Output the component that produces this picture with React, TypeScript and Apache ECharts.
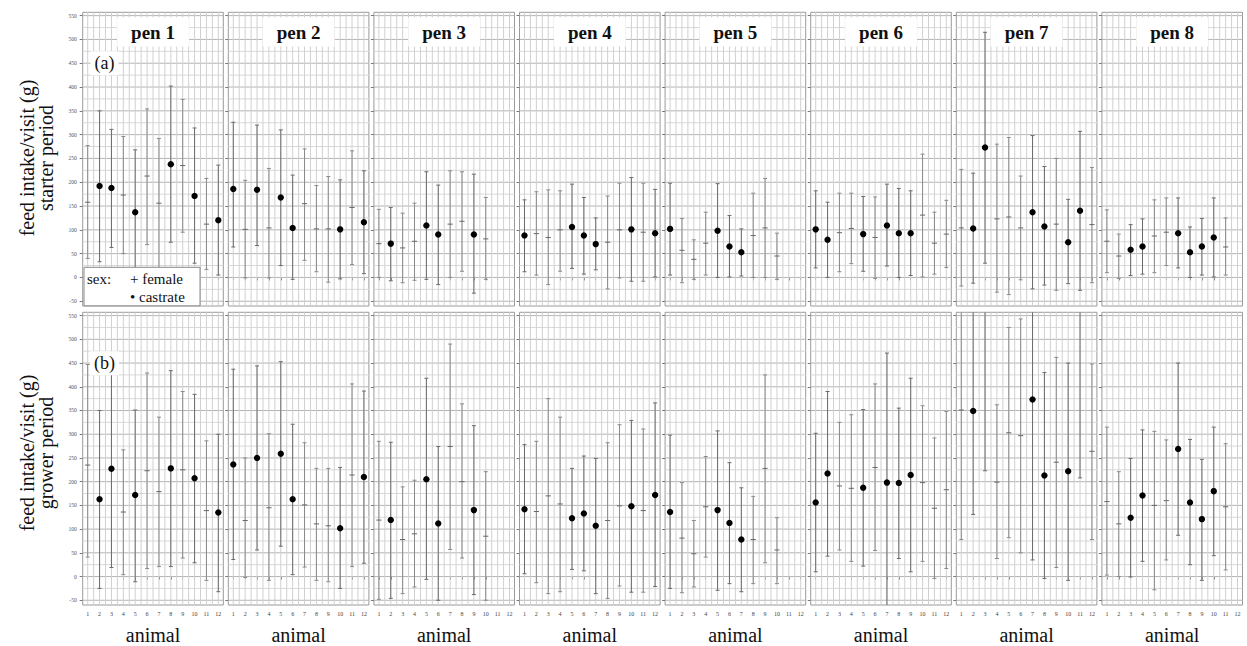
import React, { useEffect, useRef } from "react";
import * as echarts from "echarts";

const pens = ["pen 1", "pen 2", "pen 3", "pen 4", "pen 5", "pen 6", "pen 7", "pen 8"];
const animals = [1, 2, 3, 4, 5, 6, 7, 8, 9, 10, 11, 12];
const yTicks = [-50, 0, 50, 100, 150, 200, 250, 300, 350, 400, 450, 500, 550];

// F = female, C = castrate
const sex = [
  ["F", "C", "C", "F", "C", "F", "F", "C", "F", "C", "F", "C"],
  ["C", "F", "C", "F", "C", "C", "F", "F", "F", "C", "F", "C"],
  ["F", "C", "F", "F", "C", "C", "F", "F", "C", "F", null, null],
  ["C", "F", "F", "F", "C", "C", "C", "F", "F", "C", "F", "C"],
  ["C", "F", "F", "F", "C", "C", "C", "F", "F", "F", null, null],
  ["C", "C", "F", "F", "C", "F", "C", "C", "C", "F", "F", "F"],
  ["F", "C", "C", "F", "F", "F", "C", "C", "F", "C", "C", "F"],
  ["F", "F", "C", "C", "F", "F", "C", "C", "C", "C", "F", null],
];

const starterMean = [
  [158, 192, 188, 173, 137, 213, 156, 238, 235, 171, 112, 120],
  [186, 101, 184, 104, 168, 104, 155, 102, 102, 101, 147, 116],
  [71, 71, 62, 76, 109, 90, 112, 118, 90, 81, null, null],
  [88, 92, 84, 100, 106, 88, 70, 74, 100, 101, 95, 93],
  [102, 57, 38, 72, 98, 65, 53, 88, 104, 45, null, null],
  [101, 79, 94, 103, 91, 84, 109, 93, 93, 131, 72, 91],
  [104, 103, 273, 123, 127, 104, 137, 107, 112, 74, 140, 111],
  [76, 45, 58, 65, 87, 95, 93, 53, 65, 84, 64, null],
];
const starterLow = [
  [40, 33, 63, 50, -10, 69, -5, 74, 95, 30, 17, 5],
  [64, -1, 67, -1, 25, -4, 36, 12, -10, -3, 27, 8],
  [0, -7, -11, -6, -4, -15, 0, 13, -33, -4, null, null],
  [12, 5, -15, 13, 19, 7, 16, -24, -1, -8, -8, 1],
  [5, -11, -4, 5, 0, 1, 3, 0, 0, -4, null, null],
  [20, 0, 12, 29, 13, -2, 24, 0, 4, 1, 7, 21],
  [-18, -12, 30, -31, -36, -5, -24, -16, -27, -13, -27, -11],
  [10, -2, 4, 7, 10, 25, 20, 0, 5, 1, 5, null],
];
const starterHigh = [
  [277, 350, 311, 296, 268, 354, 292, 402, 374, 314, 208, 236],
  [326, 204, 320, 229, 310, 215, 270, 193, 212, 205, 266, 224],
  [143, 147, 135, 156, 222, 194, 224, 222, 217, 168, null, null],
  [163, 180, 184, 182, 196, 168, 125, 171, 198, 210, 198, 185],
  [198, 124, 79, 137, 197, 130, 102, 177, 208, 93, null, null],
  [182, 158, 177, 177, 170, 169, 196, 187, 182, 259, 137, 162],
  [227, 219, 515, 280, 294, 213, 298, 233, 250, 164, 307, 231],
  [142, 91, 111, 123, 163, 167, 167, 106, 124, 167, 125, null],
];

const growerMean = [
  [235, 163, 227, 136, 172, 223, 179, 228, 225, 207, 139, 135],
  [236, 118, 250, 145, 259, 163, 151, 111, 107, 102, 214, 210],
  [119, 119, 78, 90, 205, 112, 274, 200, 140, 85, null, null],
  [142, 137, 170, 153, 123, 133, 107, 118, 149, 148, 139, 172],
  [136, 81, 48, 147, 140, 113, 78, 78, 228, 56, null, null],
  [156, 217, 191, 186, 187, 230, 198, 197, 214, 198, 144, 183],
  [351, 349, 600, 199, 303, 297, 373, 213, 241, 222, 600, 264],
  [158, 111, 124, 171, 150, 160, 269, 156, 121, 180, 147, null],
];
const growerLow = [
  [41, -25, 19, 4, -11, 17, 21, 21, 39, 29, -8, -32],
  [36, -2, 56, -8, 64, 4, 20, -8, -11, -25, 21, 28],
  [-48, -46, -36, -22, -6, -50, 57, 39, -38, -50, null, null],
  [6, -13, -36, -32, 15, 12, -36, -46, -20, -33, -33, -21],
  [-25, -34, -22, 41, -29, -15, -32, -15, 29, -15, null, null],
  [10, 43, 56, 32, 22, 55, -70, 38, 10, 32, -4, 17],
  [78, 131, 223, 38, 82, 50, 35, -4, 19, -8, 208, 78],
  [3, 0, -1, 32, -28, 35, 87, 25, -8, 44, 14, null],
];
const growerHigh = [
  [447, 350, 436, 267, 351, 429, 336, 434, 390, 384, 286, 300],
  [437, 250, 444, 301, 453, 321, 282, 228, 228, 230, 406, 391],
  [285, 283, 189, 203, 418, 274, 490, 364, 318, 221, null, null],
  [278, 285, 375, 336, 228, 254, 249, 282, 320, 329, 311, 366],
  [298, 198, 118, 253, 307, 240, 187, 169, 425, 124, null, null],
  [302, 390, 325, 341, 352, 406, 471, 355, 418, 360, 292, 348],
  [650, 650, 950, 362, 525, 543, 600, 430, 462, 450, 950, 448],
  [315, 221, 249, 309, 306, 288, 450, 289, 247, 315, 280, null],
];

const periodLabels = ["starter period", "grower period"];
const panelTags = ["(a)", "(b)"];
const yTitle = "feed intake/visit (g)";
const xTitle = "animal";

const SERIF = '"Liberation Serif", "Times New Roman", serif';
const X_MIN = 0.58;
const X_MAX = 12.42;
const Y_MIN = -60;
const Y_MAX = 557;

function buildOption() {
  const grids: any[] = [];
  const xAxes: any[] = [];
  const yAxes: any[] = [];
  const series: any[] = [];
  const graphics: any[] = [];

  const rows = [
    { mean: starterMean, low: starterLow, high: starterHigh, top: 12.3, titleY: 158 },
    { mean: growerMean, low: growerLow, high: growerHigh, top: 312.3, titleY: 453 },
  ];
  const panelW = 140.6;
  const panelH = 293.7;

  const gridLineData: number[][] = [];
  for (let v = -50; v <= 550; v += 25) gridLineData.push([v, v % 50 === 0 ? 0 : 1]);
  for (let x = 1; x <= 12; x += 0.5) gridLineData.push([x, 2]);

  rows.forEach((row, r) => {
    pens.forEach((pen, p) => {
      const idx = r * 8 + p;
      const left = 82.7 + p * 145.6;
      grids.push({
        left,
        top: row.top,
        width: panelW,
        height: panelH,
        show: true,
        borderColor: "#9a9a9a",
        borderWidth: 1,
        backgroundColor: "#fff",
      });
      xAxes.push({
        type: "value",
        gridIndex: idx,
        min: X_MIN,
        max: X_MAX,
        axisLine: { show: false },
        splitLine: { show: false },
        axisTick: { show: true, customValues: animals, length: 3, lineStyle: { color: "#777" } },
        axisLabel: {
          show: r === 1,
          customValues: animals,
          fontSize: 6,
          margin: 6,
          color: "#444",
          fontFamily: SERIF,
        },
        name: r === 1 ? xTitle : "",
        nameLocation: "middle",
        nameGap: 20,
        nameTextStyle: { fontSize: 20, fontFamily: SERIF, color: "#111" },
      });
      yAxes.push({
        type: "value",
        gridIndex: idx,
        min: Y_MIN,
        max: Y_MAX,
        axisLine: { show: false },
        splitLine: { show: false },
        axisTick: { show: true, customValues: yTicks, length: 3, lineStyle: { color: "#777" } },
        axisLabel: {
          show: p === 0,
          customValues: yTicks,
          fontSize: 5.5,
          margin: 6,
          color: "#555",
          fontFamily: SERIF,
        },
      });
      series.push({
        type: "custom",
        xAxisIndex: idx,
        yAxisIndex: idx,
        silent: true,
        z: 1,
        data: gridLineData,
        renderItem: (params: any, api: any) => {
          const v = api.value(0);
          const k = api.value(1);
          let p1, p2, stroke;
          if (k === 2) {
            p1 = api.coord([v, Y_MIN]);
            p2 = api.coord([v, Y_MAX]);
            stroke = "#d0d0d0";
          } else {
            p1 = api.coord([X_MIN, v]);
            p2 = api.coord([X_MAX, v]);
            stroke = k === 0 ? "#b4b4b4" : "#d8d8d8";
          }
          return {
            type: "line",
            shape: { x1: p1[0], y1: p1[1], x2: p2[0], y2: p2[1] },
            style: { stroke, lineWidth: 1 },
          };
        },
      });
      const d: any[] = [];
      animals.forEach((a, i) => {
        const m = row.mean[p][i];
        if (m == null) return;
        d.push([a, m, row.low[p][i], row.high[p][i], sex[p][i] === "C" ? 1 : 0]);
      });
      series.push({
        type: "custom",
        xAxisIndex: idx,
        yAxisIndex: idx,
        clip: true,
        silent: true,
        z: 3,
        data: d,
        renderItem: (params: any, api: any) => {
          const x = api.value(0);
          const m = api.value(1);
          const lo = api.value(2);
          const hi = api.value(3);
          const c = api.value(4);
          const pm = api.coord([x, m]);
          const pl = api.coord([x, lo]);
          const ph = api.coord([x, hi]);
          const stroke = c ? "#6a6a6a" : "#8a8a8a";
          const children: any[] = [
            { type: "line", shape: { x1: pl[0], y1: pl[1], x2: ph[0], y2: ph[1] }, style: { stroke, lineWidth: 1 } },
            { type: "line", shape: { x1: pl[0] - 2, y1: pl[1], x2: pl[0] + 2, y2: pl[1] }, style: { stroke, lineWidth: 1 } },
            { type: "line", shape: { x1: ph[0] - 2, y1: ph[1], x2: ph[0] + 2, y2: ph[1] }, style: { stroke, lineWidth: 1 } },
          ];
          if (c) {
            children.push({ type: "circle", shape: { cx: pm[0], cy: pm[1], r: 3.2 }, style: { fill: "#000" } });
          } else {
            children.push({
              type: "line",
              shape: { x1: pm[0] - 2.6, y1: pm[1], x2: pm[0] + 2.6, y2: pm[1] },
              style: { stroke: "#666", lineWidth: 1 },
            });
          }
          return { type: "group", children };
        },
      });

      if (r === 0) {
        graphics.push({
          type: "text",
          z: 100,
          x: left + panelW / 2,
          y: 32,
          style: {
            text: pen,
            font: `bold 19px ${SERIF}`,
            fill: "#111",
            align: "center",
            verticalAlign: "middle",
            textAlign: "center",
            textVerticalAlign: "middle",
            backgroundColor: "#fff",
            padding: [5, 14],
          },
        });
      }
    });

    graphics.push({
      type: "text",
      z: 100,
      x: 27,
      y: row.titleY,
      rotation: Math.PI / 2,
      style: {
        text: yTitle,
        font: `20px ${SERIF}`,
        fill: "#111",
        align: "center",
        verticalAlign: "middle",
        textAlign: "center",
        textVerticalAlign: "middle",
      },
    });
    graphics.push({
      type: "text",
      z: 100,
      x: 46,
      y: row.titleY,
      rotation: Math.PI / 2,
      style: {
        text: periodLabels[r],
        font: `20px ${SERIF}`,
        fill: "#111",
        align: "center",
        verticalAlign: "middle",
        textAlign: "center",
        textVerticalAlign: "middle",
      },
    });
    graphics.push({
      type: "text",
      z: 100,
      x: 104.5,
      y: row.top + 51,
      style: {
        text: panelTags[r],
        font: `18px ${SERIF}`,
        fill: "#111",
        align: "center",
        verticalAlign: "middle",
        textAlign: "center",
        textVerticalAlign: "middle",
        backgroundColor: "#fff",
        padding: [3, 4],
      },
    });
  });

  // legend box
  graphics.push({
    type: "rect",
    z: 100,
    shape: { x: 84, y: 267.3, width: 116, height: 38.5 },
    style: { fill: "#fff", stroke: "#8a8a8a", lineWidth: 1 },
  });
  graphics.push({
    type: "text",
    z: 101,
    x: 87,
    y: 279,
    style: { text: "sex:", font: `15px ${SERIF}`, fill: "#111", align: "left", verticalAlign: "middle", textAlign: "left", textVerticalAlign: "middle" },
  });
  graphics.push({
    type: "text",
    z: 101,
    x: 130,
    y: 279,
    style: { text: "+ female", font: `15px ${SERIF}`, fill: "#111", align: "left", verticalAlign: "middle", textAlign: "left", textVerticalAlign: "middle" },
  });
  graphics.push({
    type: "text",
    z: 101,
    x: 130,
    y: 297,
    style: { text: "\u2022 castrate", font: `15px ${SERIF}`, fill: "#111", align: "left", verticalAlign: "middle", textAlign: "left", textVerticalAlign: "middle" },
  });

  return {
    animation: false,
    backgroundColor: "#fff",
    grid: grids,
    xAxis: xAxes,
    yAxis: yAxes,
    series,
    graphic: { elements: graphics },
  };
}

export default function App() {
  const ref = useRef<HTMLDivElement>(null);
  useEffect(() => {
    if (!ref.current) return;
    const chart = echarts.init(ref.current, undefined, { renderer: "svg" });
    chart.setOption(buildOption() as any);
    return () => chart.dispose();
  }, []);
  return (
    <div
      ref={ref}
      style={{ position: "fixed", left: 0, top: 0, width: 1247, height: 646, background: "#fff" }}
    />
  );
}
